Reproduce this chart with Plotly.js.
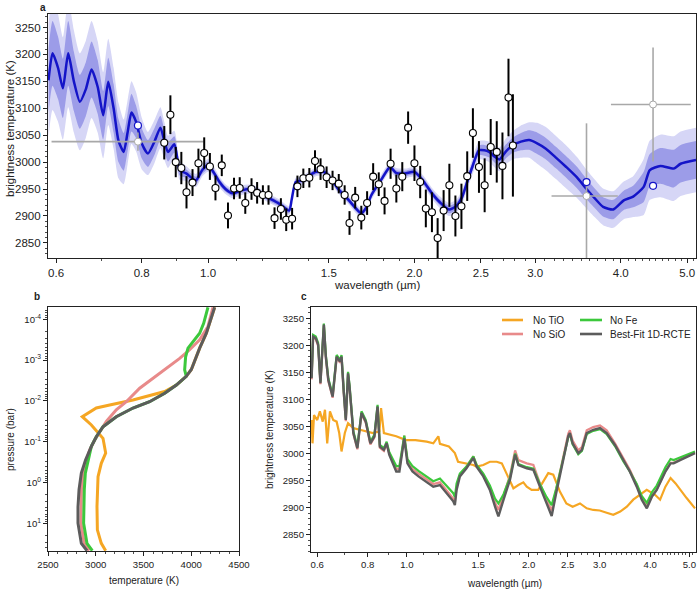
<!DOCTYPE html>
<html><head><meta charset="utf-8">
<script src="https://cdn.plot.ly/plotly-3.0.1.min.js"></script>
<style>html,body{margin:0;padding:0;background:#fff}#chart{width:700px;height:591px}</style>
</head><body><div id="chart"></div>
<script>
// ---------- Panel a: retrieved model ----------
const modelWl = [0.585,0.593,0.604,0.614,0.625,0.637,0.650,0.663,0.676,0.690,0.703,0.715,0.728,0.740,0.753,0.763,0.773,0.785,0.800,0.817,0.835,0.852,0.863,0.874,0.893,0.909,0.929,0.960,0.980,1.000,1.020,1.039,1.060,1.086,1.120,1.161,1.214,1.269,1.313,1.324,1.342,1.372,1.405,1.436,1.476,1.517,1.546,1.605,1.673,1.700,1.731,1.790,1.843,1.880,1.937,2.000,2.060,2.121,2.180,2.246,2.300,2.347,2.390,2.429,2.484,2.530,2.570,2.620,2.660,2.720,2.780,2.860,2.940,3.020,3.110,3.220,3.330,3.450,3.560,3.670,3.770,3.900,4.040,4.170,4.320,4.410,4.570,4.780,4.890,5.150];
const modelT = [3152,3202,3175,3137,3202,3150,3112,3135,3172,3140,3087,3149,3100,3040,3019,3055,3092,3075,3035,3016,3038,3064,3040,3019,3033,2985,2979,2966,2985,2994,2980,2963,2950,2942,2948,2950,2936,2923,2910,2930,2963,2966,2975,2982,2982,2966,2951,2929,2905,2915,2939,2968,2991,2980,2979,2982,2965,2942,2925,2912,2918,2935,2965,2991,3022,3022,3019,3010,3005,3020,3031,3038,3041,3035,3025,3008,2991,2972,2951,2932,2917,2912,2929,2936,2954,2985,2993,2988,2997,3004];
const modelSig1 = [60,60,58,55,60,55,50,50,52,50,45,45,45,40,35,35,35,30,28,25,25,22,20,18,15,10,8,7,7,7,6,6,5,5,5,5,5,5,5,5,5,5,5,5,5,5,5,5,5,5,5,5,5,5,5,5,6,6,6,7,7,7,8,8,9,10,10,11,12,13,14,16,18,20,20,20,20,20,19,18,18,18,18,20,28,30,33,35,35,35];
const modelSig2 = [105,105,100,95,100,95,90,90,90,85,80,80,75,70,60,60,58,55,48,40,40,38,35,30,25,18,14,12,12,12,11,10,9,9,9,8,8,8,8,8,8,8,8,8,8,8,8,8,9,9,9,9,9,9,9,9,10,10,11,12,12,13,14,15,17,18,19,20,22,24,26,30,33,38,40,40,40,38,36,35,34,34,35,38,52,55,58,60,60,60];

// ---------- Panel a: observations ----------
const dataWl = [0.863,0.881,0.897,0.914,0.930,0.949,0.968,0.987,1.006,1.025,1.047,1.069,1.091,1.112,1.133,1.157,1.179,1.202,1.225,1.250,1.277,1.300,1.326,1.350,1.377,1.405,1.432,1.459,1.489,1.519,1.551,1.582,1.608,1.639,1.673,1.706,1.741,1.774,1.809,1.846,1.882,1.920,1.958,2.000,2.039,2.078,2.121,2.162,2.206,2.249,2.295,2.342,2.388,2.434,2.484,2.532,2.584,2.637,2.688,2.743,2.784];
const dataT = [3036,3088,3000,2989,2944,2962,2998,3017,2992,2952,2994,2901,2951,2952,2924,2950,2943,2939,2939,2896,2913,2893,2895,2955,2970,2971,3002,2987,2972,2966,2960,2939,2887,2934,2897,2924,2973,2959,2928,2997,2951,2973,3064,2998,2963,2914,2907,2859,2910,2957,2900,2918,2974,3054,2991,2957,3028,3019,2993,3120,3031];
const dataErr = [31,36,28,30,30,25,27,29,25,23,20,24,20,20,20,20,20,18,18,20,20,21,20,20,18,18,20,20,20,18,18,18,22,20,22,22,25,22,25,28,26,27,30,33,30,35,37,37,38,40,38,42,46,46,48,50,52,57,62,72,95];

// photometry (TESS, Spitzer 3.6, Spitzer 4.5)
const photWl = [0.790, 3.565, 4.458];
const photWlLo = [0.591, 3.17, 3.87];
const photWlHi = [0.985, 3.96, 5.06];
const photT = [3038, 2937, 3107];
const photErr = [17, 135, 106];
// model binned to photometric bands
const binT = [3068, 2963, 2956];

// ---------- Panel b: T-P profiles ----------
const pGray = [5.1e-5,2.2e-4,5.1e-4,1.0e-3,1.7e-3,2.5e-3,4.1e-3,6.5e-3,1.05e-2,1.5e-2,2.45e-2,4.3e-2,7.6e-2,0.13,0.28,0.59,1.5,4.0,10,31,47];
const tGray = [4245,4158,4088,4036,4001,3948,3844,3722,3564,3390,3215,3076,3006,2954,2894,2849,2825,2814,2814,2849,2908];
const pGreen = [5.1e-5,1.26e-4,2.2e-4,3.5e-4,5.1e-4,8.3e-4,1.74e-3,2.5e-3,4.1e-3,6.5e-3,1.05e-2,1.5e-2,2.45e-2,4.3e-2,7.6e-2,0.13,0.28,0.59,1.5,10,31,47];
const tGreen = [4175,4130,4088,4018,3966,3941,3931,3948,3844,3722,3564,3390,3215,3076,3006,2954,2919,2891,2880,2873,2908,2964];
const pPink = [5.1e-5,1.5e-4,3.2e-4,5.6e-4,9.1e-4,1.6e-3,2.8e-3,4.9e-3,1.05e-2,1.66e-2,3.2e-2,5.6e-2,9.1e-2,0.16,0.34,0.72,1.5,10,31,47];
const tPink = [4228,4175,4088,3983,3879,3739,3599,3460,3320,3215,3111,3041,2989,2936,2894,2866,2850,2845,2880,2930];
const pOrange = [5.1e-5,2.2e-4,5.1e-4,1.0e-3,1.7e-3,2.5e-3,4.1e-3,5.9e-3,9.5e-3,1.26e-2,1.5e-2,2.45e-2,3.9e-2,8.3e-2,0.19,0.34,0.72,3.9,14.5,31,47];
const tOrange = [4245,4158,4088,4036,4001,3948,3844,3722,3390,3146,3006,2859,2954,3076,3104,3058,3024,3013,3017,3058,3104];

// ---------- Panel c: emission spectra ----------
const cWl = [0.581,0.586,0.595,0.603,0.611,0.623,0.630,0.639,0.655,0.670,0.683,0.689,0.698,0.706,0.715,0.721,0.737,0.754,0.772,0.791,0.812,0.831,0.846,0.857,0.877,0.891,0.904,0.921,0.941,0.958,0.985,1.003,1.032,1.068,1.119,1.162,1.207,1.253,1.302,1.314,1.327,1.352,1.404,1.460,1.487,1.545,1.604,1.652,1.684,1.734,1.799,1.852,1.887,1.979,2.055,2.133,2.214,2.281,2.340,2.414,2.507,2.530,2.570,2.654,2.710,2.785,2.890,3.004,3.120,3.271,3.430,3.560,3.703,3.810,3.922,4.040,4.150,4.360,4.490,4.570,4.740,4.920,5.160];
const cBest = [3139,3216,3213,3201,3130,3238,3179,3136,3105,3179,3170,3179,3112,3062,3148,3124,3038,3010,3075,3059,3019,3032,3087,3013,3007,3019,2998,2982,2967,2967,3028,2982,2967,2958,2948,2939,2942,2927,2912,2905,2933,2958,2973,2992,2976,2958,2933,2902,2884,2915,2952,2998,2979,2973,2970,2939,2908,2885,2927,2976,3032,3038,3019,3001,3007,3038,3044,3047,3038,3016,2988,2967,2939,2915,2899,2921,2933,2967,2982,2982,2988,2994,3001];
const cNoFe = [3142,3219,3216,3204,3133,3240,3182,3139,3108,3182,3173,3182,3115,3065,3151,3127,3041,3013,3078,3062,3022,3035,3090,3016,3010,3022,3003,2990,2977,2977,3033,2990,2977,2968,2958,2949,2954,2941,2927,2920,2945,2963,2976,2995,2979,2963,2941,2917,2908,2925,2956,3000,2981,2975,2972,2944,2920,2905,2935,2978,3030,3036,3017,2999,3005,3036,3042,3045,3036,3014,2986,2967,2944,2922,2909,2929,2941,2975,2990,2988,2993,2998,3004];
const cNoSiO = [3137,3214,3211,3199,3128,3236,3177,3134,3103,3177,3168,3177,3110,3060,3146,3122,3036,3008,3073,3057,3017,3030,3085,3011,3005,3017,3001,2987,2972,2972,3033,2987,2972,2963,2953,2944,2947,2932,2917,2910,2938,2961,2976,2995,2979,2961,2936,2910,2896,2923,2960,3006,2988,2982,2979,2945,2914,2895,2932,2979,3037,3043,3024,3006,3012,3043,3049,3052,3043,3019,2991,2970,2942,2918,2902,2922,2934,2968,2983,2983,2989,2995,3002];
const oWl = [0.581,0.584,0.589,0.600,0.609,0.619,0.627,0.635,0.645,0.657,0.670,0.680,0.689,0.702,0.715,0.737,0.765,0.794,0.824,0.855,0.863,0.877,0.906,0.941,0.994,1.050,1.119,1.162,1.196,1.207,1.270,1.314,1.338,1.404,1.460,1.487,1.545,1.604,1.668,1.717,1.765,1.834,1.887,1.941,1.979,2.035,2.113,2.174,2.237,2.302,2.390,2.480,2.570,2.680,2.785,2.890,3.000,3.120,3.240,3.370,3.500,3.630,3.780,3.920,4.110,4.230,4.360,4.490,4.620,4.740,4.920,5.160];
const cNoTiO = [3062,3019,3071,3062,3078,3059,3081,3019,3078,3062,3059,3038,3004,3038,3056,3047,3044,3041,3038,3041,3084,3038,3035,3032,3025,3025,3022,3019,3032,3018,3013,3001,2985,2982,2979,2976,2979,2985,2985,2982,2964,2936,2942,2947,2939,2933,2933,2948,2964,2961,2930,2908,2902,2908,2899,2896,2895,2891,2887,2893,2902,2915,2924,2933,2924,2915,2939,2955,2945,2933,2918,2899];

// ---------- labels ----------
const wlTicks = [0.6,0.8,1.0,1.5,2.0,2.5,3.0,4.0,5.0];
const wlTickText = ['0.6','0.8','1.0','1.5','2.0','2.5','3.0','4.0','5.0'];
const pTicks = [1e-4,1e-3,1e-2,1e-1,1,10];
const pTickText = ['10<sup>-4</sup>','10<sup>-3</sup>','10<sup>-2</sup>','10<sup>-1</sup>','10<sup>0</sup>','10<sup>1</sup>'];
const legendNames = ['No TiO','No Fe','No SiO','Best-Fit 1D-RCTE'];

// ---------- styling ----------
const FONT = 'Liberation Sans, Arial, Helvetica, sans-serif';
const W = 700, H = 591;
const C = {blue:'#1414c8', band1:'#9c9ce8', band2:'#d6d6f6', orange:'#f5a623', green:'#3cc83c', pink:'#e88a8a', gray:'#5c5c5c', phot:'#a8a8a8'};
const legendColors = [C.orange, C.green, C.pink, C.gray];

const minorWl = []; for (let v = 6; v <= 52; v++) minorWl.push(v / 10);
const minorP = []; for (let e = -5; e <= 1; e++) for (let d = 2; d <= 9; d++) minorP.push(d * Math.pow(10, e));

const up1 = modelT.map((t,i)=>t+modelSig1[i]), lo1 = modelT.map((t,i)=>t-modelSig1[i]);
const up2 = modelT.map((t,i)=>t+modelSig2[i]), lo2 = modelT.map((t,i)=>t-modelSig2[i]);
const SP = {shape:'spline', smoothing:0.6};

const traces = [
  {x:modelWl, y:up2, xaxis:'x', yaxis:'y', mode:'lines', line:Object.assign({width:0}, SP), hoverinfo:'skip'},
  {x:modelWl, y:lo2, xaxis:'x', yaxis:'y', mode:'lines', line:Object.assign({width:0}, SP), fill:'tonexty', fillcolor:C.band2, hoverinfo:'skip'},
  {x:modelWl, y:up1, xaxis:'x', yaxis:'y', mode:'lines', line:Object.assign({width:0}, SP), hoverinfo:'skip'},
  {x:modelWl, y:lo1, xaxis:'x', yaxis:'y', mode:'lines', line:Object.assign({width:0}, SP), fill:'tonexty', fillcolor:C.band1, hoverinfo:'skip'},
  {x:modelWl, y:modelT, xaxis:'x', yaxis:'y', mode:'lines', line:Object.assign({color:C.blue, width:2.5}, SP)},
  {x:photWl, y:photT, xaxis:'x', yaxis:'y', mode:'markers',
   marker:{symbol:'circle', size:7, color:'#fff', line:{color:C.phot, width:1}},
   error_x:{type:'data', symmetric:false, array:photWl.map((w,i)=>photWlHi[i]-w), arrayminus:photWl.map((w,i)=>w-photWlLo[i]), color:C.phot, thickness:1.6, width:0},
   error_y:{type:'data', array:photErr, color:C.phot, thickness:1.6, width:0}},
  {x:photWl, y:binT, xaxis:'x', yaxis:'y', mode:'markers',
   marker:{symbol:'circle', size:7, color:'#fff', line:{color:C.blue, width:1.2}}},
  {x:dataWl, y:dataT, xaxis:'x', yaxis:'y', mode:'markers',
   marker:{symbol:'circle', size:7, color:'#fff', line:{color:'#000', width:1.1}},
   error_y:{type:'data', array:dataErr, color:'#000', thickness:2, width:0}},
  // panel b
  {x:tOrange, y:pOrange, xaxis:'x2', yaxis:'y2', mode:'lines', name:'No TiO', line:{color:C.orange, width:3}},
  {x:tPink, y:pPink, xaxis:'x2', yaxis:'y2', mode:'lines', name:'No SiO', line:{color:C.pink, width:3}},
  {x:tGreen, y:pGreen, xaxis:'x2', yaxis:'y2', mode:'lines', name:'No Fe', line:{color:C.green, width:3}},
  {x:tGray, y:pGray, xaxis:'x2', yaxis:'y2', mode:'lines', name:'Best-Fit 1D-RCTE', line:{color:C.gray, width:3}},
  // panel c
  {x:oWl, y:cNoTiO, xaxis:'x3', yaxis:'y3', mode:'lines', name:'No TiO', line:{color:C.orange, width:2.2}},
  {x:cWl, y:cNoSiO, xaxis:'x3', yaxis:'y3', mode:'lines', name:'No SiO', line:{color:C.pink, width:2.2}},
  {x:cWl, y:cNoFe, xaxis:'x3', yaxis:'y3', mode:'lines', name:'No Fe', line:{color:C.green, width:2.2}},
  {x:cWl, y:cBest, xaxis:'x3', yaxis:'y3', mode:'lines', name:'Best-Fit 1D-RCTE', line:{color:C.gray, width:2.4}}
];

function axisBase(fs){
  return {ticks:'outside', ticklen:4, tickwidth:1, tickcolor:'#222', showline:true, linecolor:'#222', linewidth:1.1,
          mirror:true, showgrid:false, zeroline:false, automargin:false, tickfont:{size:fs, color:'#222', family:FONT}};
}
const minorStyle = {ticks:'outside', ticklen:2, tickwidth:0.8, tickcolor:'#222', showgrid:false};

const layout = {
  width:W, height:H, margin:{l:0,r:0,t:0,b:0}, paper_bgcolor:'#fff', plot_bgcolor:'#fff',
  font:{family:FONT, color:'#222', size:11}, showlegend:false,
  xaxis:Object.assign(axisBase(11.5), {domain:[48/W, 696/W], anchor:'y', type:'log', range:[Math.log10(0.584), Math.log10(5.15)],
        tickmode:'array', tickvals:wlTicks, ticktext:wlTickText, minor:Object.assign({tickmode:'array', tickvals:minorWl}, minorStyle)}),
  yaxis:Object.assign(axisBase(11.5), {domain:[1-258/H, 1-14/H], anchor:'x', range:[2822,3275], tick0:0, dtick:50,
        minor:Object.assign({dtick:10, tick0:0}, minorStyle)}),
  xaxis2:Object.assign(axisBase(9.6), {domain:[48/W, 239/W], anchor:'y2', range:[2500,4500], tick0:0, dtick:500,
        minor:Object.assign({dtick:100, tick0:0}, minorStyle)}),
  yaxis2:Object.assign(axisBase(9.6), {domain:[1-551/H, 1-307/H], anchor:'x2', type:'log', range:[1.68,-4.30],
        tickmode:'array', tickvals:pTicks, ticktext:pTickText, minor:Object.assign({tickmode:'array', tickvals:minorP}, minorStyle)}),
  xaxis3:Object.assign(axisBase(9.6), {domain:[311/W, 696/W], anchor:'y3', type:'log', range:[Math.log10(0.579), Math.log10(5.19)],
        tickmode:'array', tickvals:wlTicks, ticktext:wlTickText, minor:Object.assign({tickmode:'array', tickvals:minorWl}, minorStyle)}),
  yaxis3:Object.assign(axisBase(9.6), {domain:[1-551.7/H, 1-307.3/H], anchor:'x3', range:[2819,3270], tick0:0, dtick:50,
        minor:Object.assign({dtick:10, tick0:0}, minorStyle)}),
  annotations:[], shapes:[]
};

function note(text, px, py, size, angle, opts){
  opts = opts || {};
  layout.annotations.push({text: opts.bold ? '<b>'+text+'</b>' : text, xref:'paper', yref:'paper', x:px/W, y:1-py/H,
    xanchor:opts.xanchor||'center', yanchor:opts.yanchor||'middle', showarrow:false, textangle:angle||0,
    font:{size:size, color:'#222', family:FONT}});
}
note('brightness temperature (K)', 10, 129, 11.5, -90);
note('wavelength (\u00b5m)', 377, 285, 11.5);
note('pressure (bar)', 10, 440, 10, -90);
note('temperature (K)', 144, 580, 10);
note('brightness temperature (K)', 269, 430, 10, -90);
note('wavelength (\u00b5m)', 504, 583, 10);
note('a', 43, 0, 10, 0, {bold:true, yanchor:'top'});
note('b', 37, 296, 10, 0, {bold:true});
note('c', 304, 296, 10, 0, {bold:true});

// legend of panel c: 2 columns x 2 rows
const legCols = [[502, 523, 530.5], [580, 602, 608]];
const legRows = [320, 334];
legendNames.forEach((name, i) => {
  const col = legCols[i % 2], row = legRows[Math.floor(i / 2)];
  layout.shapes.push({type:'line', xref:'paper', yref:'paper', x0:col[0]/W, x1:col[1]/W, y0:1-row/H, y1:1-row/H,
    line:{color:legendColors[i], width:2.6}});
  note(name, col[2], row, 10, 0, {xanchor:'left'});
});

Plotly.newPlot('chart', traces, layout, {displayModeBar:false, staticPlot:true});
</script></body></html>
